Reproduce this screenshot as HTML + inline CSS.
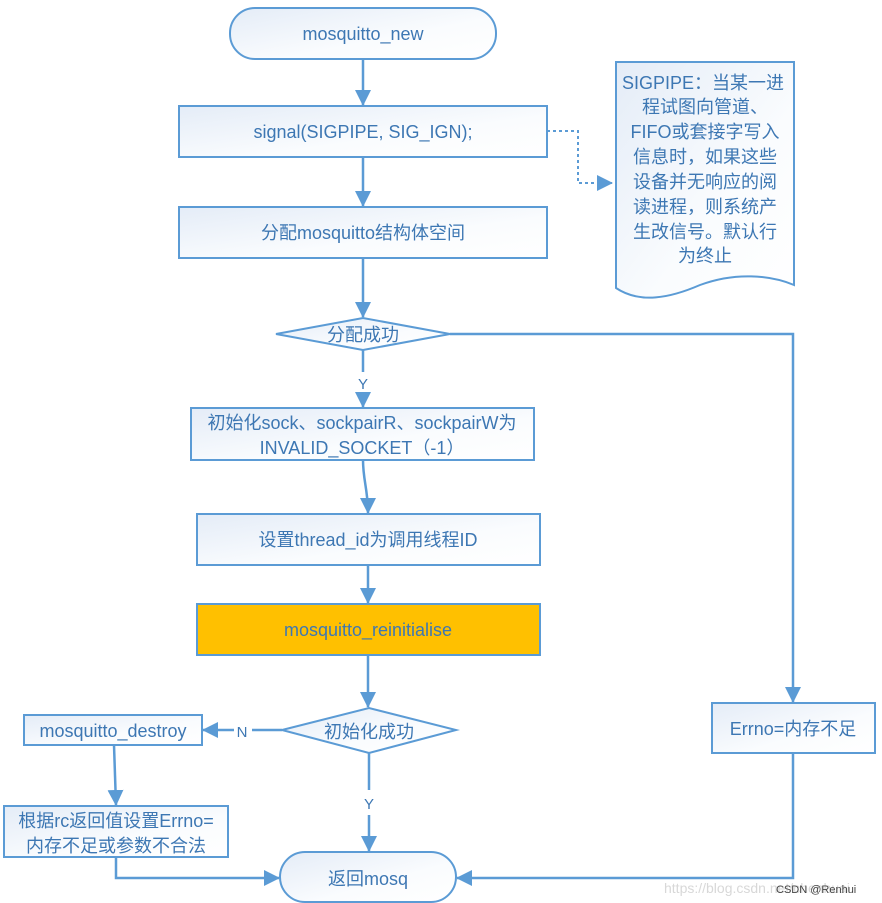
<!DOCTYPE html>
<html><head><meta charset="utf-8"><style>
html,body{margin:0;padding:0;background:#fff;}
svg{display:block;}
text{font-family:"Liberation Sans","Noto Sans CJK SC",sans-serif;fill:#3d77b3;font-size:18px;}
</style></head><body>
<svg width="882" height="903" viewBox="0 0 882 903" xmlns="http://www.w3.org/2000/svg">
<defs>
<linearGradient id="g" x1="0" y1="0" x2="1" y2="1"><stop offset="0" stop-color="#e4ecf7"/><stop offset="0.6" stop-color="#fafcfe"/><stop offset="1" stop-color="#ffffff"/></linearGradient>
<marker id="b" markerWidth="16" markerHeight="16" refX="15" refY="8" orient="auto" markerUnits="userSpaceOnUse" viewBox="0 0 16 16"><path d="M0,0 L16,8 L0,16 z" fill="#5b9bd5"/></marker>
</defs>
<g stroke="#5b9bd5" stroke-width="2" fill="url(#g)">
<rect x="230" y="8" width="266" height="51" rx="25"/>
<rect x="179" y="106" width="368" height="51"/>
<rect x="179" y="207" width="368" height="51"/>
<polygon points="276,334 363,318 450,334 363,350"/>
<rect x="191" y="408" width="343" height="52"/>
<rect x="197" y="514" width="343" height="51"/>
<rect x="197" y="604" width="343" height="51" fill="#ffc000"/>
<polygon points="282,730 369,708 456,730 369,753"/>
<rect x="24" y="715" width="178" height="30"/>
<rect x="4" y="806" width="224" height="51"/>
<rect x="280" y="852" width="176" height="50" rx="25"/>
<rect x="712" y="703" width="163" height="50"/>
<path d="M616,62 L794,62 L794,285 C770,275 735,272 700,285 C670,298 640,304 616,288 Z"/>
</g>
<g stroke="#5b9bd5" stroke-width="2.5" fill="none" marker-end="url(#b)">
<line x1="363" y1="59" x2="363" y2="105"/>
<line x1="363" y1="157" x2="363" y2="206"/>
<line x1="363" y1="258" x2="363" y2="317"/>
<path d="M450,334 L793,334 L793,702"/>
<path d="M363,350 L363,372 M363,394 L363,407"/>
<path d="M363,460 C363,480 368,490 368,513"/>
<line x1="368" y1="565" x2="368" y2="603"/>
<line x1="368" y1="655" x2="368" y2="707"/>
<path d="M282,730 L252,730 M234,730 L203,730"/>
<line x1="114" y1="745" x2="116" y2="805"/>
<path d="M116,857 L116,878 L279,878"/>
<path d="M369,753 L369,790 M369,815 L369,851"/>
<path d="M793,753 L793,878 L457,878"/>
</g>
<path d="M547,131 L578,131 L578,183 L612,183" stroke="#5b9bd5" stroke-width="2" stroke-dasharray="3,3" fill="none" marker-end="url(#b)"/>
<g text-anchor="middle">
<text x="363" y="40">mosquitto_new</text>
<text x="363" y="138">signal(SIGPIPE, SIG_IGN);</text>
<text x="363" y="239">分配mosquitto结构体空间</text>
<text x="363" y="341">分配成功</text>
<text x="363" y="389" style="font-size:15px">Y</text>
<text x="362" y="429">初始化sock、sockpairR、sockpairW为</text>
<text x="362" y="454">INVALID_SOCKET（-1）</text>
<text x="368" y="546">设置thread_id为调用线程ID</text>
<text x="368" y="636">mosquitto_reinitialise</text>
<text x="369" y="738">初始化成功</text>
<text x="242" y="737" style="font-size:15px">N</text>
<text x="113" y="737">mosquitto_destroy</text>
<text x="116" y="827">根据rc返回值设置Errno=</text>
<text x="116" y="852">内存不足或参数不合法</text>
<text x="369" y="809" style="font-size:15px">Y</text>
<text x="368" y="885">返回mosq</text>
<text x="793" y="735">Errno=内存不足</text>
<g style="font-size:17px">
<text x="703" y="89">SIGPIPE：当某一进</text>
<text x="705" y="113">程试图向管道、</text>
<text x="705" y="138">FIFO或套接字写入</text>
<text x="705" y="163">信息时，如果这些</text>
<text x="705" y="188">设备并无响应的阅</text>
<text x="705" y="213">读进程，则系统产</text>
<text x="705" y="238">生改信号。默认行</text>
<text x="705" y="262">为终止</text>
</g>
</g>
<text x="664" y="893" style="font-size:14px;fill:#d8d8d8">https://blog.csdn.net/chenhuai</text>
<text x="776" y="893" style="font-size:11px;fill:#444">CSDN @Renhui</text>
</svg>
</body></html>
